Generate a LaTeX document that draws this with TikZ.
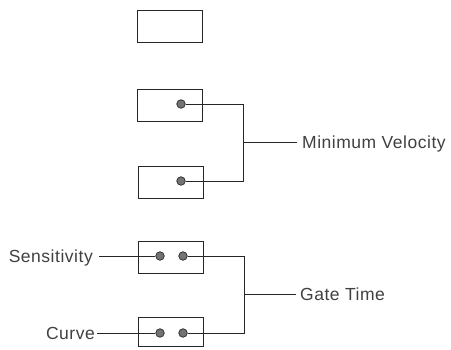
\documentclass[tikz,border=0pt]{standalone}
\usepackage{fontspec}
\setmainfont{Liberation Sans}
\newfontfamily\lblfont[LetterSpace=3]{Liberation Sans}
\usetikzlibrary{calc}
\begin{document}
\begin{tikzpicture}[x=1pt,y=-1pt,
  panel/.style={draw=black!85,line width=0.9pt,minimum width=65pt,minimum height=32pt,inner sep=0pt},
  knob/.style={circle,draw=black!85,fill=black!55,line width=0.7pt,minimum size=8.5pt,inner sep=0pt},
  wire/.style={draw=black!85,line width=0.8pt},
  lbl/.style={font=\lblfont\fontsize{17.5}{20}\selectfont,text=black!75,inner sep=0pt}]
\useasboundingbox (0,0) rectangle (451,349);
% panels
\node[panel] (b1) at (169.5,26) {};
\node[panel] (b2) at (169.5,105) {};
\node[panel] (b3) at (170.5,182) {};
\node[panel] (b4) at (170.5,257) {};
\node[panel,minimum height=29pt] (b5) at (170.5,331.5) {};
% knobs
\node[knob] (d2) at (181,104) {};
\node[knob] (d3) at (181,181) {};
\node[knob] (d4a) at (160,256) {};
\node[knob] (d4b) at (183,256) {};
\node[knob] (d5a) at (160,333) {};
\node[knob] (d5b) at (183,333) {};
% labels
\node[lbl,anchor=base west] (mv) at (302,148.5) {Minimum Velocity};
\node[lbl,anchor=base west] (gt) at (300,300) {Gate Time};
\node[lbl,anchor=base east] (se) at (93,262) {Sensitivity};
\node[lbl,anchor=base east] (cu) at (95,339.5) {Curve};
% junctions
\coordinate (j1) at (243,142.5);
\coordinate (j2) at (244,294.5);
% connectors
\draw[wire] (d2.east) -- (d2.east -| j1) -- (d3.east -| j1) -- (d3.east);
\draw[wire] (j1) -- ($(mv.west |- j1)+(-5,0)$);
\draw[wire] (d4b.east) -- (d4b.east -| j2) -- (d5b.east -| j2) -- (d5b.east);
\draw[wire] (j2) -- ($(gt.west |- j2)+(-4,0)$);
\draw[wire] ($(se.east |- d4a)+(6,0)$) -- (d4a.west);
\draw[wire] ($(cu.east |- d5a)+(2,0)$) -- (d5a.west);
\end{tikzpicture}
\end{document}
